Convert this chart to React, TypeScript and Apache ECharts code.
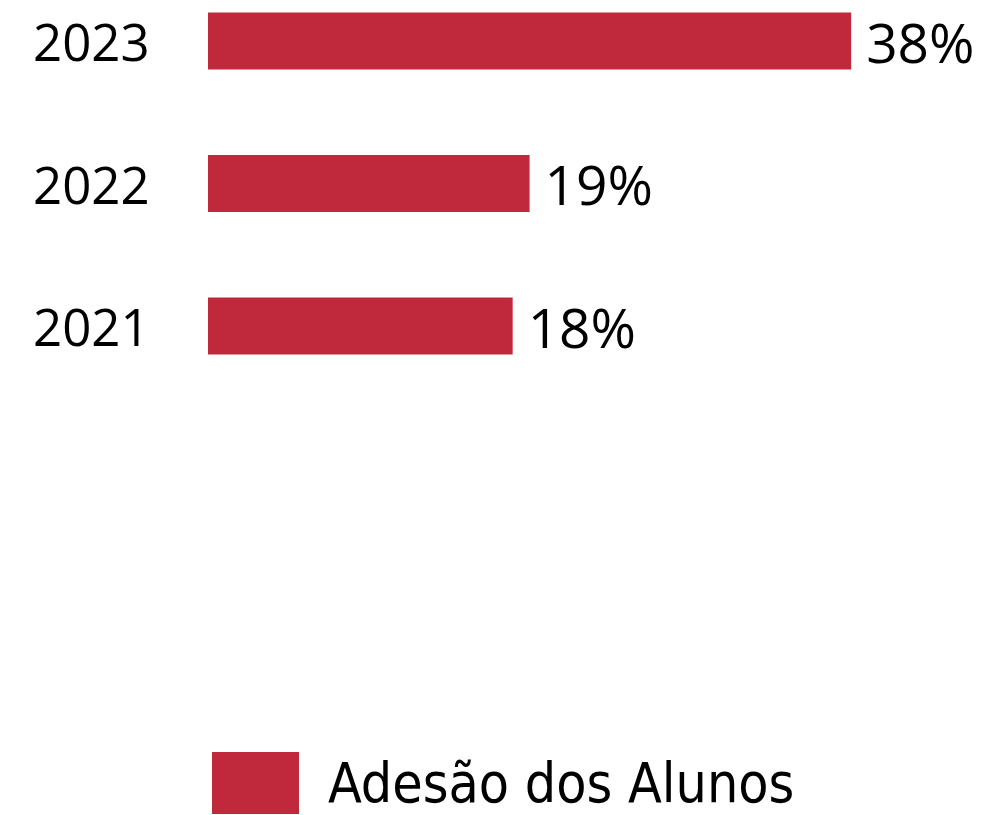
import React, { useEffect, useRef } from "react";
import * as echarts from "echarts";

const years = ["2023", "2022", "2021"];
const adesao = [38, 19, 18];
const seriesName = "Adesão dos Alunos";

const numFont = "'Open Sans', 'Noto Sans', sans-serif";
const legendFont = "'DejaVu Sans Condensed', 'Open Sans', sans-serif";
const barColor = "#C0283C";

export default function App() {
  const ref = useRef<HTMLDivElement>(null);
  useEffect(() => {
    document.body.style.margin = "0";
    const chart = echarts.init(ref.current!, null, { renderer: "svg" });
    chart.setOption({
      animation: false,
      grid: { left: 208, top: 41, height: 285, width: 677 },
      xAxis: { type: "value", min: 0, max: 40, show: false },
      yAxis: {
        type: "category",
        data: years,
        inverse: true,
        boundaryGap: false,
        axisLine: { show: false },
        axisTick: { show: false },
        splitLine: { show: false },
        axisLabel: {
          align: "left",
          margin: 175,
          fontSize: 51,
          color: "#000",
          fontFamily: numFont,
        },
      },
      legend: {
        data: [seriesName],
        left: 212,
        top: 752,
        padding: 0,
        itemWidth: 87,
        itemHeight: 62,
        icon: "rect",
        textStyle: {
          fontSize: 55,
          color: "#000",
          fontFamily: legendFont,
          padding: [0, 0, 0, 24],
        },
      },
      series: [
        {
          type: "bar",
          name: seriesName,
          data: adesao,
          barWidth: 57,
          clip: false,
          itemStyle: { color: barColor },
          label: {
            show: true,
            position: "right",
            distance: 15,
            formatter: "{c}%",
            fontSize: 55,
            color: "#000",
            fontFamily: numFont,
          },
        },
      ],
    });
    return () => chart.dispose();
  }, []);
  return <div ref={ref} style={{ width: 1002, height: 815 }} />;
}
